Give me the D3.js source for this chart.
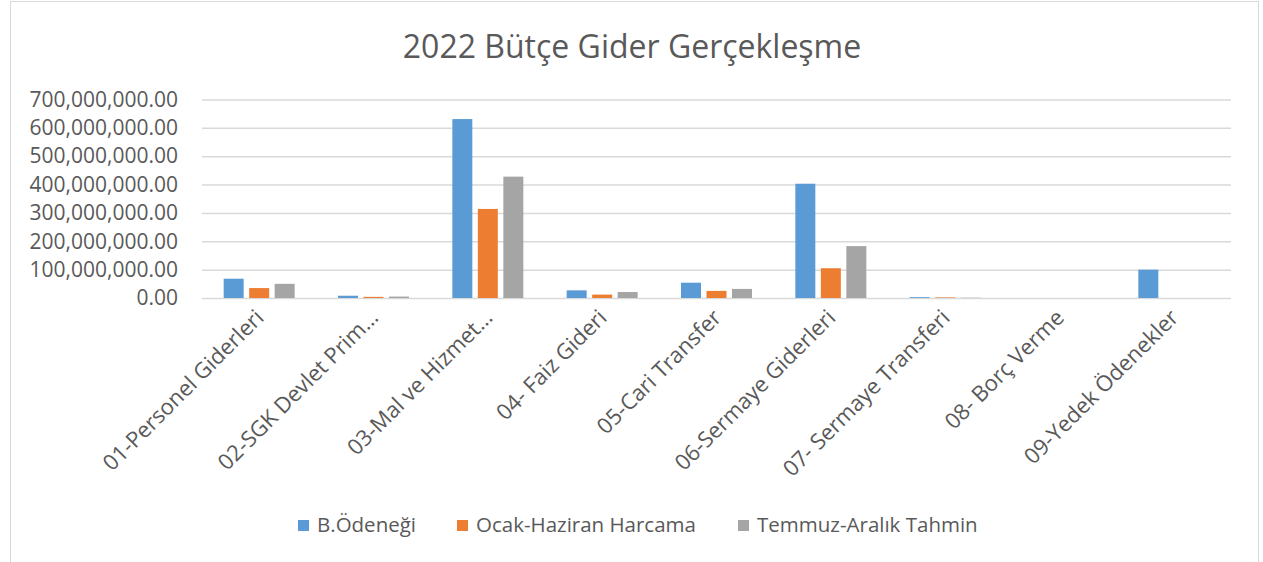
<!doctype html>
<html lang="tr">
<head>
<meta charset="utf-8">
<title>2022 Bütçe Gider Gerçekleşme</title>
<style>
html, body { margin: 0; padding: 0; background: #fff; }
svg { display: block; }
text { font-family: "Open Sans", "Noto Sans", sans-serif; fill: #595959; }
</style>
</head>
<body>
<svg id="chart" width="1263" height="562"></svg>
<script src="https://d3js.org/d3.v7.min.js"></script>
<script>
var categories = ["01-Personel Giderleri", "02-SGK Devlet Prim…", "03-Mal ve Hizmet…",
  "04- Faiz Gideri", "05-Cari Transfer", "06-Sermaye Giderleri",
  "07- Sermaye Transferi", "08- Borç Verme", "09-Yedek Ödenekler"];
var seriesNames = ["B.Ödeneği", "Ocak-Haziran Harcama", "Temmuz-Aralık Tahmin"];
var butceOdenegi   = [68000000, 8000000, 631000000, 27000000, 54000000, 403000000, 3000000, 0, 100000000];
var ocakHaziran    = [35000000, 4000000, 314000000, 12000000, 25000000, 105000000, 2000000, 0, 0];
var temmuzAralik   = [50000000, 5000000, 428000000, 21000000, 32000000, 183000000, 1000000, 0, 0];
var yTicks = [0, 100000000, 200000000, 300000000, 400000000, 500000000, 600000000, 700000000];
var colors = ["#5b9bd5", "#ed7d31", "#a5a5a5"];

var allSeries = [butceOdenegi, ocakHaziran, temmuzAralik];
var rows = categories.map(function(c, i) {
  return { cat: c, values: allSeries.map(function(s, j) { return { key: j, value: s[i] }; }) };
});

var svg = d3.select("#chart");

// chart border
svg.append("rect")
  .attr("x", 10.5).attr("y", 1.5)
  .attr("width", 1248).attr("height", 580)
  .attr("fill", "none").attr("stroke", "#d9d9d9").attr("stroke-width", 1);

var plotLeft = 202, plotRight = 1231, plotTop = 99.5, plotBottom = 298;

var y = d3.scaleLinear().domain([0, 700000000]).range([plotBottom, plotTop]);
var x0 = d3.scaleBand().domain(categories).range([plotLeft, plotRight])
  .paddingInner(0.33).paddingOuter(0.165);
var x1 = d3.scaleBand().domain([0, 1, 2]).range([0, x0.bandwidth()])
  .paddingInner(0.216).paddingOuter(0.11);

// title
svg.append("text")
  .attr("x", 632).attr("y", 58)
  .attr("text-anchor", "middle")
  .style("font-size", "32px")
  .text("2022 Bütçe Gider Gerçekleşme");

// gridlines + y labels
var yAxis = d3.axisLeft(y).tickValues(yTicks)
  .tickSize(-(plotRight - plotLeft)).tickPadding(24)
  .tickFormat(d3.format(",.2f"));

var gy = svg.append("g")
  .attr("transform", "translate(" + plotLeft + ",0)")
  .call(yAxis);
gy.select(".domain").remove();
gy.selectAll(".tick line").attr("stroke", "#d9d9d9").attr("stroke-width", 1.5);
gy.selectAll(".tick text").style("font-size", "21px").attr("fill", "#595959");

// bars
var groups = svg.append("g").selectAll("g")
  .data(rows).enter().append("g")
  .attr("transform", function(d) { return "translate(" + x0(d.cat) + ",0)"; });

groups.selectAll("rect")
  .data(function(d) { return d.values; })
  .enter().append("rect")
  .attr("x", function(d) { return x1(d.key); })
  .attr("width", x1.bandwidth())
  .attr("y", function(d) { return y(d.value); })
  .attr("height", function(d) { return plotBottom - y(d.value); })
  .attr("fill", function(d) { return colors[d.key]; });

// x axis labels
var xAxis = d3.axisBottom(x0).tickSize(0).tickPadding(0);
var gx = svg.append("g")
  .attr("transform", "translate(0," + plotBottom + ")")
  .call(xAxis);
gx.select(".domain").remove();
gx.selectAll(".tick text")
  .style("font-size", "22px")
  .attr("fill", "#595959")
  .attr("text-anchor", "end")
  .attr("dy", null)
  .attr("y", 0)
  .attr("transform", "translate(6,21) rotate(-45)");

// legend
var legendX = [298, 457, 738];
var legend = svg.append("g").selectAll("g")
  .data(seriesNames).enter().append("g")
  .attr("transform", function(d, i) { return "translate(" + legendX[i] + ",520)"; });
legend.append("rect")
  .attr("width", 11).attr("height", 11)
  .attr("fill", function(d, i) { return colors[i]; });
legend.append("text")
  .attr("x", 19).attr("y", 12)
  .style("font-size", "20.5px")
  .text(function(d) { return d; });
</script>
</body>
</html>
